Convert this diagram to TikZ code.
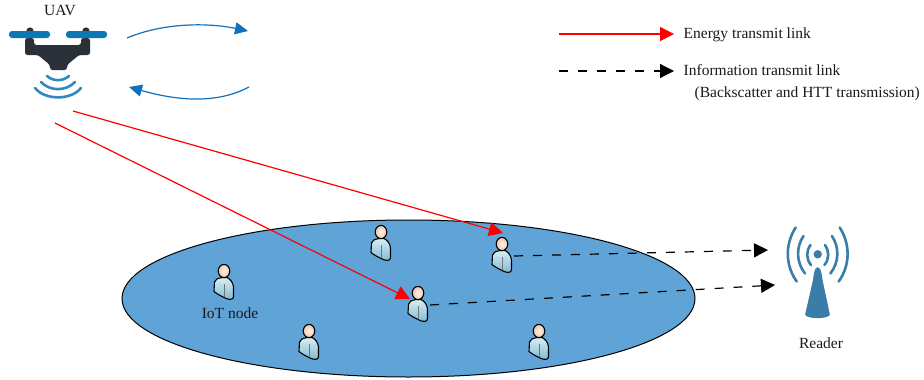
\documentclass[tikz,border=0pt]{standalone}
\usepackage{fontspec}
\setmainfont{Liberation Serif}
\usetikzlibrary{arrows.meta,shapes.geometric}
\definecolor{cloud}{HTML}{5FA3D7}
\definecolor{uavblue}{HTML}{0F76B5}
\definecolor{uavdark}{HTML}{2A3138}
\definecolor{wave}{HTML}{2F8AC0}
\definecolor{readerblue}{HTML}{3A7DA8}
\definecolor{curveblue}{HTML}{0F70BE}
\definecolor{shirtA}{HTML}{D8EEF4}
\definecolor{shirtB}{HTML}{7FBAD2}
\definecolor{skinA}{HTML}{FFF6EE}
\definecolor{skinB}{HTML}{EFC4A8}
\tikzset{
  label text/.style={font=\fontsize{15.5}{18}\selectfont,inner sep=0pt,text=black!90},
  energy/.style={red,line width=1.2pt,-{Triangle[length=14pt,width=14pt]}},
  info/.style={black,line width=1.2pt,dash pattern=on 9pt off 10pt,-{Triangle[length=14pt,width=14pt]}},
  flow/.style={curveblue,line width=1.2pt,-{Triangle[length=13pt,width=12pt]}},
  wavearc/.style={wave,line width=2.6pt,line cap=round},
  readerarc/.style={readerblue,line width=2.6pt,line cap=round},
  person/.pic={
    \draw[line width=1.1pt,line join=round,top color=shirtA,bottom color=shirtB]
      (-2,6.5) .. controls (-6,7.5) and (-9,8) .. (-9.5,11)
      -- (-10,20.5) .. controls (-7,23) and (-3,25) .. (1,27)
      .. controls (5,29) and (9,29) .. (9.5,26)
      -- (9.5,16) .. controls (9,11) and (6,8) .. (3,6.5) -- cycle;
    \draw[black!55,line width=.5pt] (0,13) -- (0,26);
    \draw[line width=1.1pt,inner color=skinA,outer color=skinB] (0,0) ellipse (5.8 and 6.6);
  }
}
\begin{document}
\begin{tikzpicture}[x=1pt,y=-1pt]
\useasboundingbox (0,0) rectangle (924,380);
% ground ellipse
\node[draw=black,line width=1pt,fill=cloud,ellipse,inner sep=0pt,minimum width=573pt,minimum height=157pt] (ground) at (408.5,298.5) {};
% UAV
\fill[uavdark] (30,31) circle (3.6) (86,31) circle (3.6);
\fill[uavdark,rounded corners=2.5pt]
  (25,38) -- (34,38) -- (34,45) -- (81,45) -- (81,38) -- (90,38) -- (90,55)
  -- (79,55) -- (67,65) -- (67,70) -- (50,70) -- (50,65) -- (38,55) -- (25,55) -- cycle;
\fill[uavblue,rounded corners=3pt] (9,31) rectangle (50,38) (66,31) rectangle (107,38);
\draw[wavearc] (47,76) .. controls (53,81.5) and (63,81.5) .. (69,76);
\draw[wavearc] (41,82) .. controls (50,91.5) and (66,91.5) .. (75,82);
\draw[wavearc] (35,88) .. controls (45,100.5) and (71,100.5) .. (81,88);
\node[label text] (uav) at (60,11) {UAV};
\coordinate (uavA) at (73,111);
\coordinate (uavB) at (55,123);
% flow arrows
\coordinate (fa) at (127,38); \coordinate (fb) at (248,31);
\coordinate (fc) at (249,87); \coordinate (fd) at (129,87);
\draw[flow] (fa) .. controls (165,22) and (210,23) .. (fb);
\draw[flow] (fc) .. controls (215,105) and (175,100) .. (fd);
% people
\pic at (381,232) {person};
\pic at (224,271) {person};
\pic at (502,244) {person};
\pic at (418,293) {person};
\pic at (309,331) {person};
\pic at (539,331) {person};
\node[label text] (iot) at (230,313) {IoT node};
% links
\coordinate (nodeAin) at (503,233);
\coordinate (nodeBin) at (410,299);
\coordinate (nodeAout) at (514,256);
\coordinate (nodeBout) at (430,305);
\coordinate (readerA) at (768,250);
\coordinate (readerB) at (775,285);
\draw[energy] (uavA) -- (nodeAin);
\draw[energy] (uavB) -- (nodeBin);
\draw[info] (nodeAout) -- (readerA);
\draw[info] (nodeBout) -- (readerB);
% reader
\fill[readerblue] (817.7,254.3) circle (4.2);
\fill[readerblue,rounded corners=1pt] (817.7,268) .. controls (815,268) and (814,272) .. (813,280)
  -- (805,315) .. controls (810,319) and (825,319) .. (830,315) -- (822.5,280)
  .. controls (821.5,272) and (820.5,268) .. (817.7,268) -- cycle;
\draw[readerarc] (810.5,245) .. controls (806,251) and (806,259) .. (811,265);
\draw[readerarc] (803.5,236) .. controls (796,247) and (796,262) .. (805,273.5);
\draw[readerarc] (795.7,227.5) .. controls (785,244) and (785,265) .. (796.7,281.5);
\draw[readerarc] (824.9,245) .. controls (829.4,251) and (829.4,259) .. (824.4,265);
\draw[readerarc] (831.9,236) .. controls (839.4,247) and (839.4,262) .. (830.4,273.5);
\draw[readerarc] (839.7,227.5) .. controls (850.4,244) and (850.4,265) .. (838.7,281.5);
\node[label text] (reader) at (821,343) {Reader};
% legend
\coordinate (la) at (559,34); \coordinate (lb) at (674,34);
\coordinate (lc) at (559,71); \coordinate (ld) at (674,71);
\draw[energy] (la) -- (lb);
\draw[info] (lc) -- (ld);
\node[label text,anchor=west] (l1) at (683.5,35) {Energy transmit link};
\node[label text,anchor=west] (l2) at (683.5,70.5) {Information transmit link};
\node[label text,anchor=east] (l3) at (920,94) {(Backscatter and HTT transmission)};
\end{tikzpicture}
\end{document}
